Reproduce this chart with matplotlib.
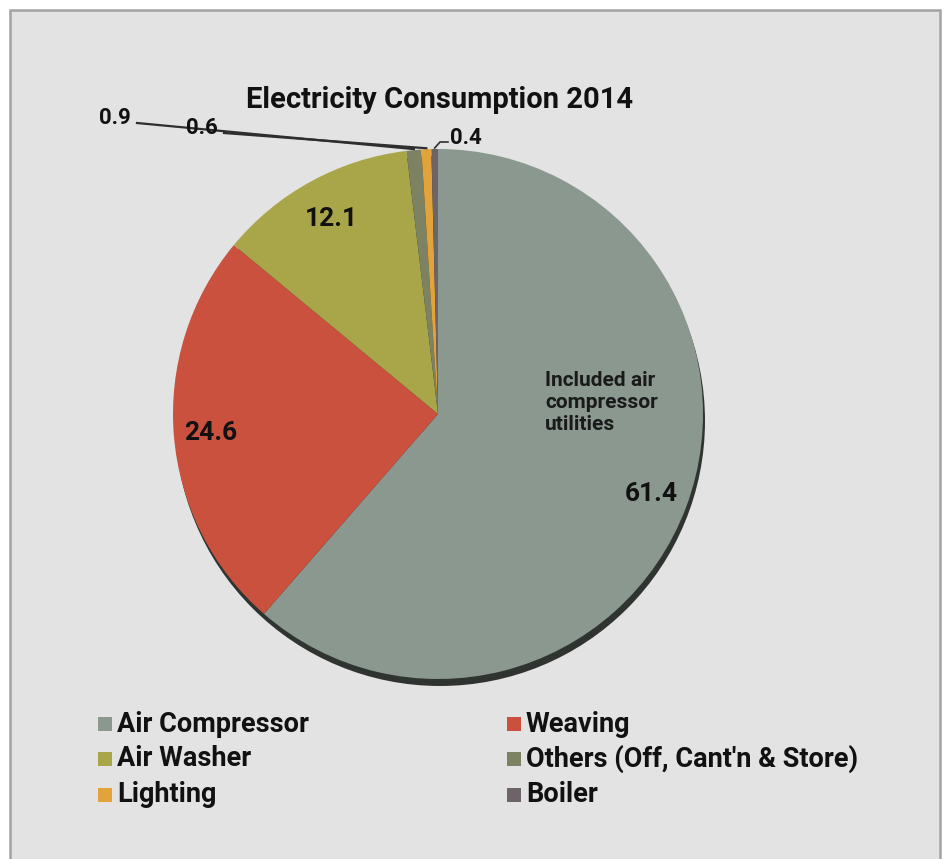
import matplotlib
matplotlib.use("Agg")
import matplotlib.pyplot as plt
from matplotlib.patches import Rectangle, Circle
from matplotlib import font_manager
import numpy as np

categories = ["Air Compressor", "Weaving", "Air Washer",
              "Others (Off, Cant'n & Store)", "Lighting", "Boiler"]
values = [61.4, 24.6, 12.1, 0.9, 0.6, 0.4]
colors = ["#8a988f", "#c9513e", "#a9a64a", "#7d8262", "#e2a43a", "#6c6468"]
title = "Electricity Consumption 2014"
note = "Included air\ncompressor\nutilities"

names = {f.name for f in font_manager.fontManager.ttflist}
FONT = "DejaVu Sans"
for cand in ["Roboto", "Lato"]:
    if cand in names:
        FONT = cand
        break

W, H = 947, 859
fig = plt.figure(figsize=(W / 100, H / 100), dpi=100)
fig.patch.set_facecolor("white")
ax = fig.add_axes([0, 0, 1, 1])

# panel background with border
ax.add_patch(Rectangle((10, -20), 930, H - 10 + 20, facecolor="#e3e3e3",
                       edgecolor="#a3a3a3", lw=1.8, zorder=0))

cx, cy, R = 438, H - 414, 265
# 3D-ish shadow
ax.add_patch(Circle((cx + 2, cy - 7), R, facecolor="#2f3431", edgecolor="none", zorder=1))

wedges, _ = ax.pie(values, colors=colors, startangle=90, counterclock=False,
                   center=(cx, cy), radius=R, frame=True,
                   wedgeprops=dict(linewidth=0, zorder=2))
ax.set_xlim(0, W)
ax.set_ylim(0, H)
ax.set_aspect("equal")
ax.axis("off")

# value labels for the large slices
for w, v, rr in zip(wedges[:3], values[:3], [0.86, 0.86, 0.84]):
    ang = np.deg2rad((w.theta1 + w.theta2) / 2)
    ax.text(cx + rr * R * np.cos(ang), cy + rr * R * np.sin(ang), f"{v}",
            ha="center", va="center", fontsize=19, fontweight="bold",
            family=FONT, color="#111111", zorder=5)

# small slices with leader lines
def top_point(w):
    ang = np.deg2rad((w.theta1 + w.theta2) / 2)
    return cx + R * np.cos(ang), cy + R * np.sin(ang)

small_pos = [(115, H - 118), (202, H - 128), (466, H - 138)]
for w, v, (tx, ty) in zip(wedges[3:], values[3:], small_pos):
    px, py = top_point(w)
    ax.text(tx, ty, f"{v}", ha="center", va="center", fontsize=16,
            fontweight="bold", family=FONT, color="#111111", zorder=5)
    if tx < cx:
        ax.plot([tx + 22, px], [ty - 5, py + 1], color="#2e2e2e", lw=1.6, zorder=4)
    else:
        ax.plot([tx - 18, tx - 26, px], [ty - 4, ty - 4, py + 1], color="#2e2e2e", lw=1.2, zorder=4)

ax.text(545, H - 403, note, ha="left", va="center", fontsize=15,
        fontweight="bold", family=FONT, color="#1a1a1a", linespacing=1.2, zorder=5)

ax.text(440, H - 100, title, ha="center", va="center", fontsize=21,
        fontweight="bold", family=FONT, color="#111111", zorder=5)

# legend
col_x = [98, 507]
row_y = [H - 724, H - 759, H - 795]
for i, (c, lab) in enumerate(zip(colors, categories)):
    x = col_x[i % 2]
    y = row_y[i // 2]
    ax.add_patch(Rectangle((x, y - 7), 14, 14, facecolor=c, edgecolor="none", zorder=5))
    ax.text(x + 19, y, lab, ha="left", va="center", fontsize=19.5,
            fontweight="bold", family=FONT, color="#111111", zorder=5)

fig.savefig("out.png", dpi=100, facecolor=fig.get_facecolor())
